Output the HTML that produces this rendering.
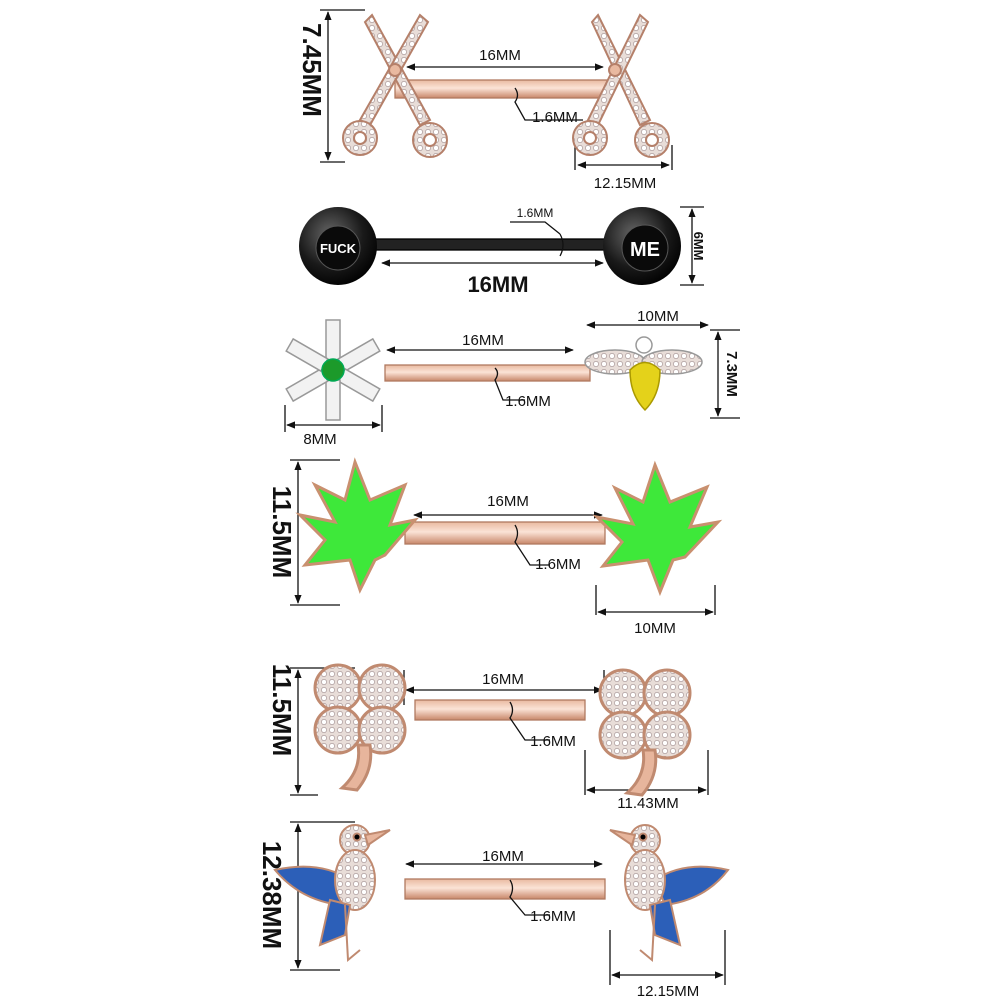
<!DOCTYPE html>
<html><head><meta charset="utf-8"><style>
html,body{margin:0;padding:0;background:#fff;}
svg{display:block;}
text{font-family:"Liberation Sans",Arial,sans-serif;fill:#111;}
</style></head><body>
<svg width="1000" height="1000" viewBox="0 0 1000 1000" xmlns="http://www.w3.org/2000/svg">
<defs>
<linearGradient id="rg" x1="0" y1="0" x2="0" y2="1">
<stop offset="0" stop-color="#e9b9a0"/><stop offset="0.45" stop-color="#fbe3d6"/><stop offset="1" stop-color="#c8876a"/></linearGradient>
<radialGradient id="bk" cx="0.4" cy="0.35" r="0.7"><stop offset="0" stop-color="#666"/><stop offset="0.6" stop-color="#1a1a1a"/><stop offset="1" stop-color="#000"/></radialGradient>
<pattern id="gem" width="8" height="8" patternUnits="userSpaceOnUse"><rect width="8" height="8" fill="#e8ddd8"/><circle cx="4" cy="4" r="2.6" fill="#fff" stroke="#a99" stroke-width="0.7"/></pattern>
<marker id="ar" viewBox="0 0 10 10" refX="9" refY="5" markerWidth="7" markerHeight="7" orient="auto-start-reverse"><path d="M0 1 L10 5 L0 9Z" fill="#111"/></marker>
</defs>
<g stroke="#111" stroke-width="1.3" fill="none">
<!-- Row1 -->
<rect x="395" y="80" width="215" height="18" fill="url(#rg)" stroke="#b07a60"/>
<line x1="328" y1="12" x2="328" y2="160" marker-start="url(#ar)" marker-end="url(#ar)"/><line x1="320" y1="10" x2="365" y2="10"/><line x1="320" y1="162" x2="345" y2="162"/>
<line x1="407" y1="67" x2="603" y2="67" marker-start="url(#ar)" marker-end="url(#ar)"/><line x1="575" y1="145" x2="575" y2="170"/><line x1="672" y1="145" x2="672" y2="170"/><line x1="578" y1="165" x2="669" y2="165" marker-start="url(#ar)" marker-end="url(#ar)"/>
<path d="M515 88 Q520 95 515 102 L525 120 L583 120"/>
<!-- Row2 -->
<rect x="375" y="239" width="232" height="11" fill="#222" stroke="#000"/>
<line x1="382" y1="263" x2="603" y2="263" marker-start="url(#ar)" marker-end="url(#ar)"/><line x1="680" y1="207" x2="704" y2="207"/><line x1="680" y1="285" x2="704" y2="285"/><line x1="692" y1="209" x2="692" y2="283" marker-start="url(#ar)" marker-end="url(#ar)"/>
<path d="M560 234 Q566 245 560 256 M560 234 L545 222 L510 222"/>
<!-- Row3 -->
<rect x="385" y="365" width="205" height="16" fill="url(#rg)" stroke="#b07a60"/>
<line x1="387" y1="350" x2="573" y2="350" marker-start="url(#ar)" marker-end="url(#ar)"/><line x1="587" y1="325" x2="708" y2="325" marker-start="url(#ar)" marker-end="url(#ar)"/><line x1="710" y1="330" x2="740" y2="330"/><line x1="710" y1="418" x2="740" y2="418"/><line x1="718" y1="332" x2="718" y2="416" marker-start="url(#ar)" marker-end="url(#ar)"/>
<line x1="285" y1="405" x2="285" y2="432"/><line x1="382" y1="405" x2="382" y2="432"/><line x1="287" y1="425" x2="380" y2="425" marker-start="url(#ar)" marker-end="url(#ar)"/>
<path d="M495 368 Q500 373 495 380 L503 400 L525 400"/>
<!-- Row4 -->
<rect x="405" y="522" width="200" height="22" fill="url(#rg)" stroke="#b07a60"/>
<line x1="298" y1="462" x2="298" y2="603" marker-start="url(#ar)" marker-end="url(#ar)"/><line x1="290" y1="460" x2="340" y2="460"/><line x1="290" y1="605" x2="340" y2="605"/>
<line x1="414" y1="515" x2="602" y2="515" marker-start="url(#ar)" marker-end="url(#ar)"/><line x1="596" y1="585" x2="596" y2="615"/><line x1="715" y1="585" x2="715" y2="615"/><line x1="598" y1="612" x2="713" y2="612" marker-start="url(#ar)" marker-end="url(#ar)"/>
<path d="M515 525 Q520 533 515 542 L530 565 L550 565"/>
<!-- Row5 -->
<rect x="415" y="700" width="170" height="20" fill="url(#rg)" stroke="#b07a60"/>
<line x1="298" y1="670" x2="298" y2="793" marker-start="url(#ar)" marker-end="url(#ar)"/><line x1="290" y1="668" x2="355" y2="668"/><line x1="290" y1="795" x2="318" y2="795"/>
<line x1="406" y1="690" x2="602" y2="690" marker-start="url(#ar)" marker-end="url(#ar)"/><line x1="404" y1="670" x2="404" y2="705"/><line x1="604" y1="670" x2="604" y2="705"/>
<line x1="585" y1="750" x2="585" y2="795"/><line x1="708" y1="750" x2="708" y2="795"/><line x1="587" y1="790" x2="706" y2="790" marker-start="url(#ar)" marker-end="url(#ar)"/>
<path d="M510 702 Q515 710 510 718 L525 740 L550 740"/>
<!-- Row6 -->
<rect x="405" y="879" width="200" height="20" fill="url(#rg)" stroke="#b07a60"/>
<line x1="298" y1="824" x2="298" y2="968" marker-start="url(#ar)" marker-end="url(#ar)"/><line x1="290" y1="822" x2="355" y2="822"/><line x1="290" y1="970" x2="340" y2="970"/>
<line x1="406" y1="864" x2="602" y2="864" marker-start="url(#ar)" marker-end="url(#ar)"/><line x1="610" y1="930" x2="610" y2="985"/><line x1="725" y1="930" x2="725" y2="985"/><line x1="612" y1="975" x2="723" y2="975" marker-start="url(#ar)" marker-end="url(#ar)"/>
<path d="M510 880 Q515 888 510 897 L525 915 L550 915"/>
</g>
<!-- Row1 scissors -->
<g stroke="#b5806a" stroke-width="2">
<path d="M372 15 L430 120 L420 125 L365 22Z" fill="url(#gem)"/>
<path d="M420 15 L360 120 L370 125 L428 22Z" fill="url(#gem)"/>
<circle cx="360" cy="138" r="17" fill="url(#gem)"/><circle cx="360" cy="138" r="6" fill="#fff"/>
<circle cx="430" cy="140" r="17" fill="url(#gem)"/><circle cx="430" cy="140" r="6" fill="#fff"/>
<circle cx="395" cy="70" r="6" fill="#e9b9a0"/>
<path d="M598 15 L650 120 L640 125 L592 22Z" fill="url(#gem)"/>
<path d="M640 15 L588 120 L598 125 L648 22Z" fill="url(#gem)"/>
<circle cx="590" cy="138" r="17" fill="url(#gem)"/><circle cx="590" cy="138" r="6" fill="#fff"/>
<circle cx="652" cy="140" r="17" fill="url(#gem)"/><circle cx="652" cy="140" r="6" fill="#fff"/>
<circle cx="615" cy="70" r="6" fill="#e9b9a0"/>
</g>
<!-- Row2 balls -->
<circle cx="338" cy="246" r="39" fill="url(#bk)"/><circle cx="338" cy="248" r="22" fill="#0a0a0a" stroke="#555"/>
<circle cx="642" cy="246" r="39" fill="url(#bk)"/><circle cx="645" cy="248" r="23" fill="#0a0a0a" stroke="#555"/>
<text x="338" y="253" font-size="13" font-weight="bold" text-anchor="middle" style="fill:#fff">FUCK</text>
<text x="645" y="256" font-size="20" font-weight="bold" text-anchor="middle" style="fill:#fff">ME</text>
<!-- Row3 flower & bee -->
<g stroke="#999" stroke-width="1.5" fill="#f2f2f2">
<g transform="translate(333,370)">
<rect x="-7" y="-50" width="14" height="40"/><rect x="-7" y="-50" width="14" height="40" transform="rotate(60)"/><rect x="-7" y="-50" width="14" height="40" transform="rotate(120)"/><rect x="-7" y="-50" width="14" height="40" transform="rotate(180)"/><rect x="-7" y="-50" width="14" height="40" transform="rotate(240)"/><rect x="-7" y="-50" width="14" height="40" transform="rotate(300)"/>
<circle r="11" fill="#1c9a2a" stroke="#0a5"/></g>
<ellipse cx="615" cy="362" rx="30" ry="12" fill="url(#gem)"/><ellipse cx="672" cy="362" rx="30" ry="12" fill="url(#gem)"/>
<circle cx="644" cy="345" r="8" fill="#fff"/>
<path d="M630 370 Q645 355 660 370 Q660 395 645 410 Q630 395 630 370Z" fill="#e4d21a" stroke="#a90"/>
</g>
<!-- Row4 leaves -->
<g fill="#3ee83a" stroke="#c9906f" stroke-width="3">
<path d="M355 462 L370 500 L405 485 L390 525 L415 520 L385 555 L375 560 L360 590 L350 560 L305 565 L325 540 L300 515 L335 522 L315 485 L345 500Z"/>
<path d="M655 465 L670 502 L707 487 L690 527 L718 522 L685 557 L673 560 L660 592 L648 560 L603 566 L622 542 L597 517 L633 524 L615 488 L643 502Z"/>
</g>
<!-- Row5 clovers -->
<g fill="url(#gem)" stroke="#c08a70" stroke-width="3">
<g transform="translate(360,710)"><circle cx="-22" cy="-22" r="23"/><circle cx="22" cy="-22" r="23"/><circle cx="-22" cy="20" r="23"/><circle cx="22" cy="20" r="23"/><path d="M-2 35 Q2 60 -18 78 L-3 80 Q14 60 10 35Z" fill="#e7b59c"/></g>
<g transform="translate(645,715)"><circle cx="-22" cy="-22" r="23"/><circle cx="22" cy="-22" r="23"/><circle cx="-22" cy="20" r="23"/><circle cx="22" cy="20" r="23"/><path d="M-2 35 Q2 60 -18 78 L-3 80 Q14 60 10 35Z" fill="#e7b59c"/></g>
</g>
<!-- Row6 birds -->
<g stroke="#c08a70" stroke-width="2">
<g><path d="M275 870 Q320 860 350 880 L340 905 Q300 900 275 870Z" fill="#2c5fb8"/><circle cx="355" cy="840" r="15" fill="url(#gem)"/><path d="M365 835 L390 830 L368 845Z" fill="#e7b59c"/><ellipse cx="355" cy="880" rx="20" ry="30" fill="url(#gem)"/><path d="M330 900 L320 945 L345 935 L350 905Z" fill="#2c5fb8"/><path d="M345 905 L348 960 L360 950" fill="none"/><circle cx="357" cy="837" r="3.5" fill="#000"/></g>
<g><path d="M728 870 Q685 860 655 880 L665 905 Q705 900 728 870Z" fill="#2c5fb8"/><circle cx="645" cy="840" r="15" fill="url(#gem)"/><path d="M635 835 L610 830 L632 845Z" fill="#e7b59c"/><ellipse cx="645" cy="880" rx="20" ry="30" fill="url(#gem)"/><path d="M670 900 L680 945 L655 935 L650 905Z" fill="#2c5fb8"/><path d="M655 905 L652 960 L640 950" fill="none"/><circle cx="643" cy="837" r="3.5" fill="#000"/></g>
</g>
<!-- Labels -->
<g font-size="15">
<text x="500" y="60" text-anchor="middle">16MM</text>
<text x="555" y="122" text-anchor="middle">1.6MM</text>
<text x="625" y="188" text-anchor="middle">12.15MM</text>
<text x="535" y="217" text-anchor="middle" font-size="12">1.6MM</text>
<text x="498" y="292" text-anchor="middle" font-size="22" font-weight="bold">16MM</text>
<text x="483" y="345" text-anchor="middle">16MM</text>
<text x="658" y="321" text-anchor="middle">10MM</text>
<text x="528" y="406" text-anchor="middle">1.6MM</text>
<text x="320" y="444" text-anchor="middle">8MM</text>
<text x="508" y="506" text-anchor="middle">16MM</text>
<text x="558" y="569" text-anchor="middle">1.6MM</text>
<text x="655" y="633" text-anchor="middle">10MM</text>
<text x="503" y="684" text-anchor="middle">16MM</text>
<text x="553" y="746" text-anchor="middle">1.6MM</text>
<text x="648" y="808" text-anchor="middle">11.43MM</text>
<text x="503" y="861" text-anchor="middle">16MM</text>
<text x="553" y="921" text-anchor="middle">1.6MM</text>
<text x="668" y="996" text-anchor="middle">12.15MM</text>
</g>
<g font-weight="bold">
<text transform="translate(303,70) rotate(90)" font-size="26" text-anchor="middle">7.45MM</text>
<text transform="translate(694,246) rotate(90)" font-size="13" text-anchor="middle">6MM</text>
<text transform="translate(727,374) rotate(90)" font-size="15" text-anchor="middle">7.3MM</text>
<text transform="translate(273,532) rotate(90)" font-size="26" text-anchor="middle">11.5MM</text>
<text transform="translate(273,710) rotate(90)" font-size="26" text-anchor="middle">11.5MM</text>
<text transform="translate(263,895) rotate(90)" font-size="26" text-anchor="middle">12.38MM</text>
</g>
</svg>
</body></html>
